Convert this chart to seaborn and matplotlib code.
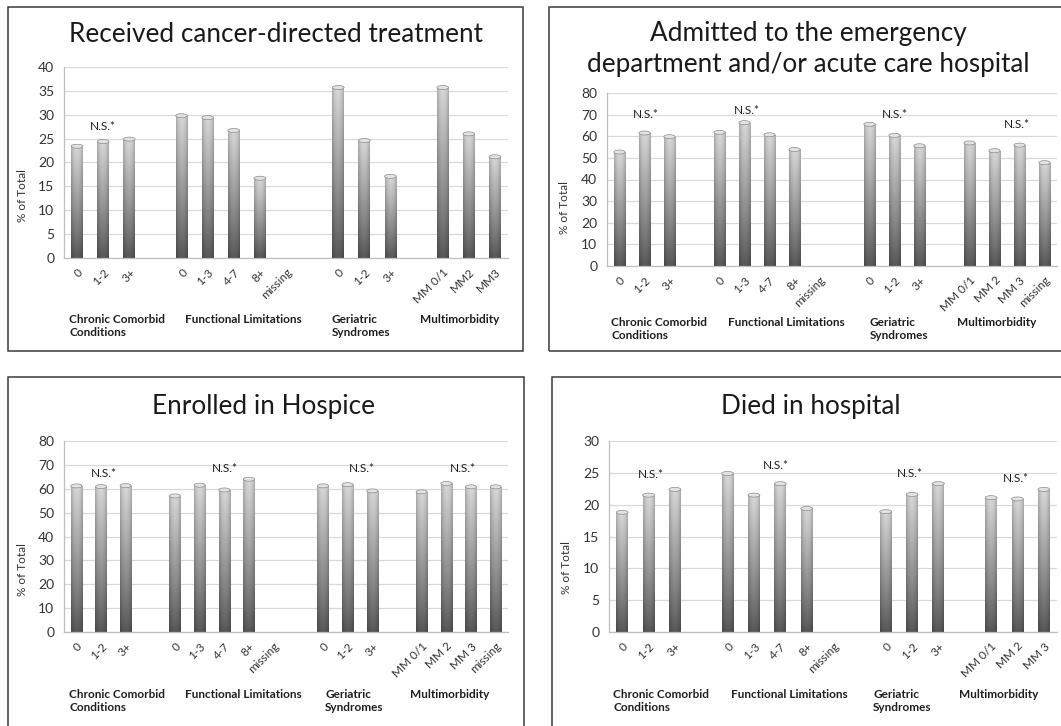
import numpy as np
import pandas as pd
import matplotlib
matplotlib.use("Agg")
import matplotlib.pyplot as plt
import matplotlib.transforms as mtransforms
from matplotlib.patches import Rectangle, Ellipse
import seaborn as sns

# ---------------- data ----------------
cc_labels = ["0", "1-2", "3+"]
fl_labels = ["0", "1-3", "4-7", "8+", "missing"]
gs_labels = ["0", "1-2", "3+"]
mm_labels_short = ["MM 0/1", "MM2", "MM3"]
mm_labels_full = ["MM 0/1", "MM 2", "MM 3", "missing"]
mm_labels_three = ["MM 0/1", "MM 2", "MM 3"]
group_names = ["Chronic Comorbid\nConditions", "Functional Limitations",
               "Geriatric\nSyndromes", "Multimorbidity"]

treatment_cc = [23.4, 24.4, 24.9]
treatment_fl = [29.8, 29.4, 26.7, 16.7, None]
treatment_gs = [35.7, 24.6, 17.1]
treatment_mm = [35.7, 26.0, 21.2]

admitted_cc = [52.7, 61.5, 59.8]
admitted_fl = [61.8, 66.3, 60.7, 53.9, None]
admitted_gs = [65.5, 60.4, 55.6]
admitted_mm = [56.9, 53.3, 55.9, 47.8]

hospice_cc = [61.2, 60.9, 61.3]
hospice_fl = [57.0, 61.5, 59.5, 64.0, None]
hospice_gs = [61.2, 61.7, 59.1]
hospice_mm = [58.7, 62.2, 60.8, 60.8]

died_cc = [18.8, 21.5, 22.4]
died_fl = [24.9, 21.5, 23.3, 19.4, None]
died_gs = [18.9, 21.6, 23.3]
died_mm = [21.1, 20.9, 22.4]

# ---------------- layout ----------------
W, H = 1061, 726
TEXT = "#1f1f1f"
TICK_TEXT = "#333333"
AXIS_GRAY = "#bfbfbf"
GRID_GRAY = "#d9d9d9"

panels = [
    dict(title="Received cancer-directed treatment", title_xy=(276, 35),
         values=[treatment_cc, treatment_fl, treatment_gs, treatment_mm],
         labels=[cc_labels, fl_labels, gs_labels, mm_labels_short],
         ymax=40, ystep=5, box=(8, 7, 523, 351), axes=(64, 67, 508, 258),
         ylabel_xy=(23, 196), group_y=314, group_x=[69, 185, 332, 420],
         ns=[(0.97, 27.5)]),
    dict(title="Admitted to the emergency\ndepartment and/or acute care hospital",
         title_xy=(808, 49),
         values=[admitted_cc, admitted_fl, admitted_gs, admitted_mm],
         labels=[cc_labels, fl_labels, gs_labels, mm_labels_full],
         ymax=80, ystep=10, box=(549, 7, 1075, 351), axes=(607, 93, 1057, 266),
         ylabel_xy=(565, 208), group_y=317, group_x=[611, 728, 870, 957],
         ns=[(1.05, 70.1), (5.1, 72.1), (11.03, 70.1), (15.9, 65.5)]),
    dict(title="Enrolled in Hospice", title_xy=(263, 407),
         values=[hospice_cc, hospice_fl, hospice_gs, hospice_mm],
         labels=[cc_labels, fl_labels, gs_labels, mm_labels_full],
         ymax=80, ystep=10, box=(8, 377, 524, 740), axes=(64, 441, 508, 632),
         ylabel_xy=(23, 570), group_y=689, group_x=[69, 185, 325, 410],
         ns=[(1.1, 66.5), (6.03, 68.3), (11.57, 68.6), (15.66, 68.6)]),
    dict(title="Died in hospital", title_xy=(811, 407),
         values=[died_cc, died_fl, died_gs, died_mm],
         labels=[cc_labels, fl_labels, gs_labels, mm_labels_three],
         ymax=30, ystep=5, box=(552, 377, 1075, 740), axes=(609, 441, 1057, 632),
         ylabel_xy=(567, 568), group_y=689, group_x=[613, 731, 873, 959],
         ns=[(1.09, 24.7), (5.83, 26.2), (10.92, 24.9), (14.94, 24.15)]),
]

sns.set_style("white")
plt.rcParams["font.family"] = ["Lato", "DejaVu Sans"]

fig = plt.figure(figsize=(W / 100, H / 100), dpi=100)
fig.patch.set_facecolor("white")


def fx(px):
    return px / W


def fy(py):
    return 1 - py / H


def build_frame(values, labels):
    """One row per slot; an empty slot separates consecutive groups."""
    order, ticklabels, rows = [], [], []
    for gi, (vals, labs) in enumerate(zip(values, labels)):
        for li, (v, lab) in enumerate(zip(vals, labs)):
            sid = f"g{gi}_{li}"
            order.append(sid)
            ticklabels.append(lab)
            if v is not None:
                rows.append(dict(slot=sid, value=v))
        if gi < len(values) - 1:
            sid = f"gap{gi}"
            order.append(sid)
            ticklabels.append("")
    return pd.DataFrame(rows), order, ticklabels


def shade_bars(ax, px_per_unit):
    """Replace flat fill with a cylinder-like grey gradient and a rounded cap."""
    hx = np.linspace(0, 1, 48)
    vy = np.linspace(0, 1, 160)
    horiz = 0.82 + 0.24 * np.sin(np.pi * hx) ** 0.7
    for p in list(ax.patches):
        h = p.get_height()
        if not np.isfinite(h) or h <= 0:
            continue
        x, w = p.get_x(), p.get_width()
        vert = 0.32 + 0.48 * (vy ** 0.9)
        img = np.clip(vert[:, None] * horiz[None, :], 0, 1)
        rgb = np.dstack([img, img, img])
        im = ax.imshow(rgb, extent=(x, x + w, 0, h), origin="lower",
                       aspect="auto", interpolation="bilinear", zorder=2)
        im.set_clip_path(p)
        p.set_facecolor("none")
        p.set_edgecolor("none")
        cap_h = 4.0 / px_per_unit
        ax.add_patch(Ellipse((x + w / 2, h), w, cap_h, facecolor="#e2e2e2",
                             edgecolor="#8c8c8c", lw=0.5, zorder=3))


for cfg in panels:
    bx0, by0, bx1, by1 = cfg["box"]
    fig.patches.append(Rectangle((fx(bx0), fy(by1)), fx(bx1 - bx0), (by1 - by0) / H,
                                 transform=fig.transFigure, fill=False,
                                 edgecolor="#3a3a3a", lw=1.1, zorder=0))

    l, t, r, b = cfg["axes"]
    ax = fig.add_axes([fx(l), fy(b), fx(r - l), (b - t) / H])
    ax.set_facecolor("none")

    df, order, ticklabels = build_frame(cfg["values"], cfg["labels"])
    sns.barplot(data=df, x="slot", y="value", order=order, ax=ax,
                width=0.45, color="#777777", errorbar=None, zorder=2)
    n = len(order)
    ymax = cfg["ymax"]
    shade_bars(ax, (b - t) / ymax)

    ax.set_xlim(-0.5, n - 0.5)
    ax.set_ylim(0, ymax)
    ax.set_yticks(np.arange(0, ymax + 0.1, cfg["ystep"]))
    ax.yaxis.grid(True, color=GRID_GRAY, lw=0.9, zorder=0)
    ax.set_axisbelow(True)

    ax.set_xticks(range(n))
    ax.set_xticklabels(ticklabels, rotation=45, ha="right", va="center",
                       rotation_mode="anchor", fontsize=8.5, color=TICK_TEXT)
    ax.set_xticks(np.arange(-0.5, n, 1.0), minor=True)
    ax.tick_params(axis="x", which="major", length=0, pad=9)
    ax.tick_params(axis="x", which="minor", length=4, color=AXIS_GRAY, width=0.9)
    offset = mtransforms.ScaledTranslation(4 / 100, 0, fig.dpi_scale_trans)
    for lab in ax.get_xticklabels():
        lab.set_transform(lab.get_transform() + offset)

    ax.tick_params(axis="y", length=4, color=AXIS_GRAY, width=0.9,
                   labelsize=10, labelcolor=TICK_TEXT, pad=3)
    for side in ("top", "right"):
        ax.spines[side].set_visible(False)
    for side in ("left", "bottom"):
        ax.spines[side].set_color(AXIS_GRAY)
        ax.spines[side].set_linewidth(0.9)
    ax.set_xlabel("")
    ax.set_ylabel("")

    for xs, ys in cfg["ns"]:
        ax.text(xs, ys, "N.S.*", ha="center", va="center", fontsize=8.5, color=TEXT)

    tx, ty = cfg["title_xy"]
    fig.text(fx(tx), fy(ty), cfg["title"], ha="center", va="center",
             fontsize=18.8, color="#1a1a1a", linespacing=1.3)

    yx, yy = cfg["ylabel_xy"]
    fig.text(fx(yx), fy(yy), "% of Total", rotation=90, ha="center", va="center",
             fontsize=8.5, color=TICK_TEXT)

    for gx, name in zip(cfg["group_x"], group_names):
        fig.text(fx(gx), fy(cfg["group_y"]), name, ha="left", va="top",
                 fontsize=8.5, fontweight="bold", color=TEXT, linespacing=1.25)

fig.savefig("out.png", dpi=100, facecolor="white")
